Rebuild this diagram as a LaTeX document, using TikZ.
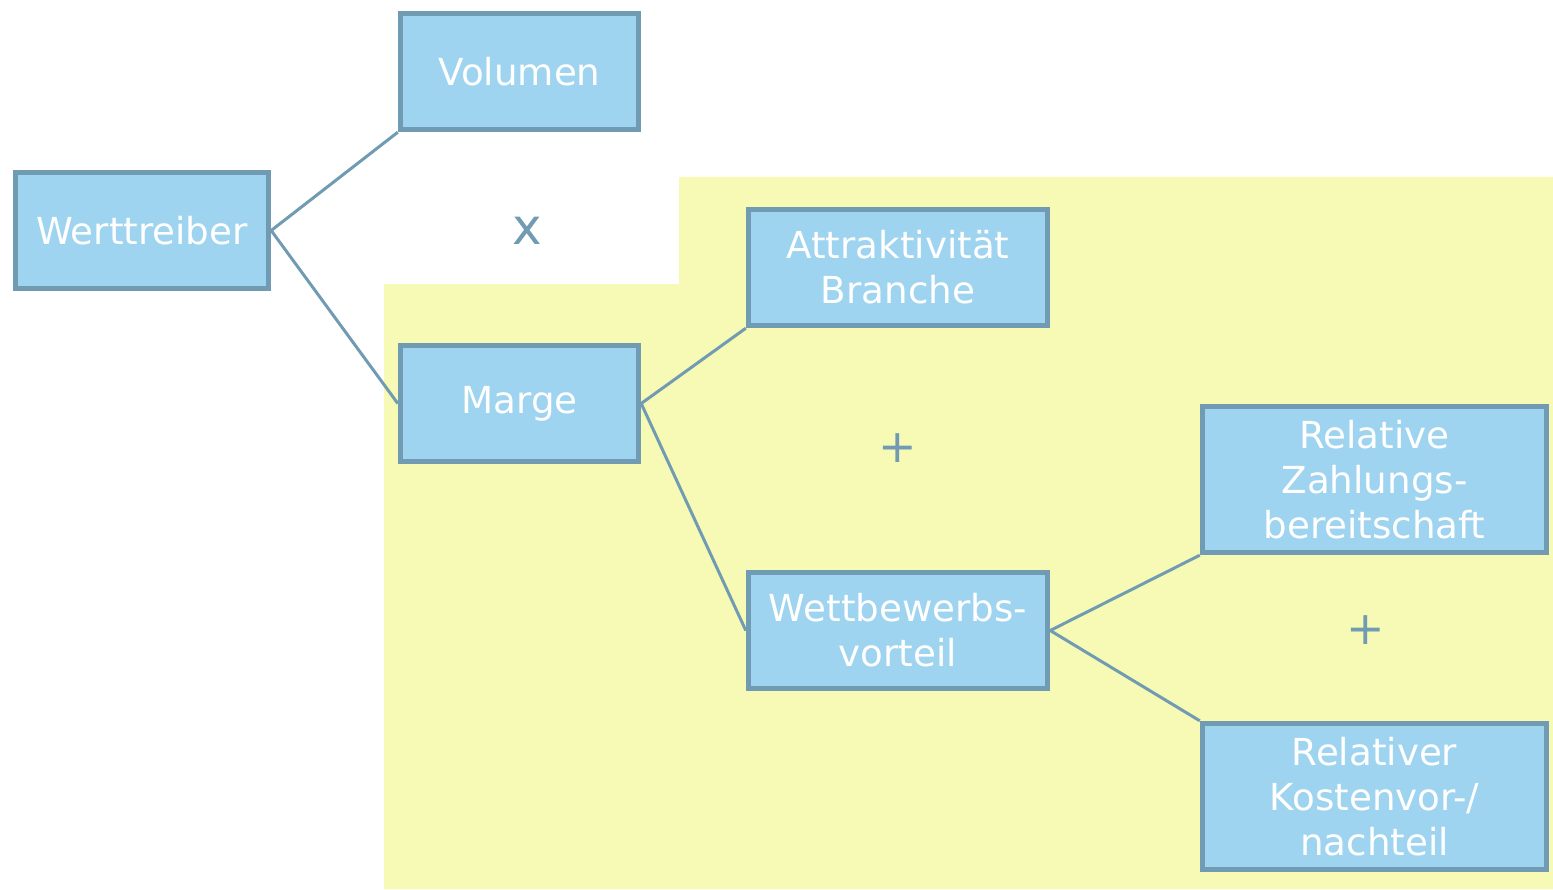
\documentclass[tikz,border=0pt]{standalone}
\usepackage{fontspec}
\setmainfont{DejaVu Sans}
\definecolor{boxfill}{RGB}{158,212,240}
\definecolor{boxline}{RGB}{112,155,178}
\definecolor{bgyellow}{RGB}{247,250,180}
\begin{document}
\begin{tikzpicture}[x=0.5pt,y=-0.5pt,
  wbox/.style={draw=boxline,fill=boxfill,line width=2.7pt,inner sep=0pt,
    text=white,align=center,font=\fontsize{18.6}{22.5}\selectfont},
  small/.style={wbox,minimum width=119pt,minimum height=58pt},
  wide/.style={wbox,minimum width=149.5pt,minimum height=58pt},
  tall/.style={wbox,minimum width=172pt,minimum height=73pt},
  conn/.style={draw=boxline,line width=1.5pt},
  op/.style={text=boxline,inner sep=0pt}]
\useasboundingbox (0,0) rectangle (1553,889);
\fill[white] (0,0) rectangle (1553,889);
\fill[bgyellow] (384,284) -- (679,284) -- (679,177) -- (1553,177) -- (1553,889) -- (384,889) -- cycle;
\node[wbox,minimum width=126.5pt,minimum height=58pt] (wt) at (142,230.5) {Werttreiber};
\node[small] (vol) at (519.5,71.5) {Volumen};
\node[small] (marge) at (519.5,403.5) {\raisebox{-1.5pt}{Marge}};
\node[wide] (attr) at (898,267.5) {Attraktivität\\Branche};
\node[wide] (wett) at (898,630.5) {Wettbewerbs-\\vorteil};
\node[tall] (rz) at (1374.5,479.5) {Relative\\Zahlungs-\\bereitschaft};
\node[tall] (rk) at (1374.5,796.5) {Relativer\\Kostenvor-/\\nachteil};
\node[op,font=\fontsize{25}{28}\selectfont] (times) at (527,231) {x};
\node[op,font=\fontsize{23}{26}\selectfont] (plus1) at (898,448) {+};
\node[op,font=\fontsize{23}{26}\selectfont] (plus2) at (1366,630) {+};
\draw[conn] (wt.east) -- (vol.south west);
\draw[conn] (wt.east) -- (marge.west);
\draw[conn] (marge.east) -- (attr.south west);
\draw[conn] (marge.east) -- (wett.west);
\draw[conn] (wett.east) -- (rz.south west);
\draw[conn] (wett.east) -- (rk.north west);
\end{tikzpicture}
\end{document}
